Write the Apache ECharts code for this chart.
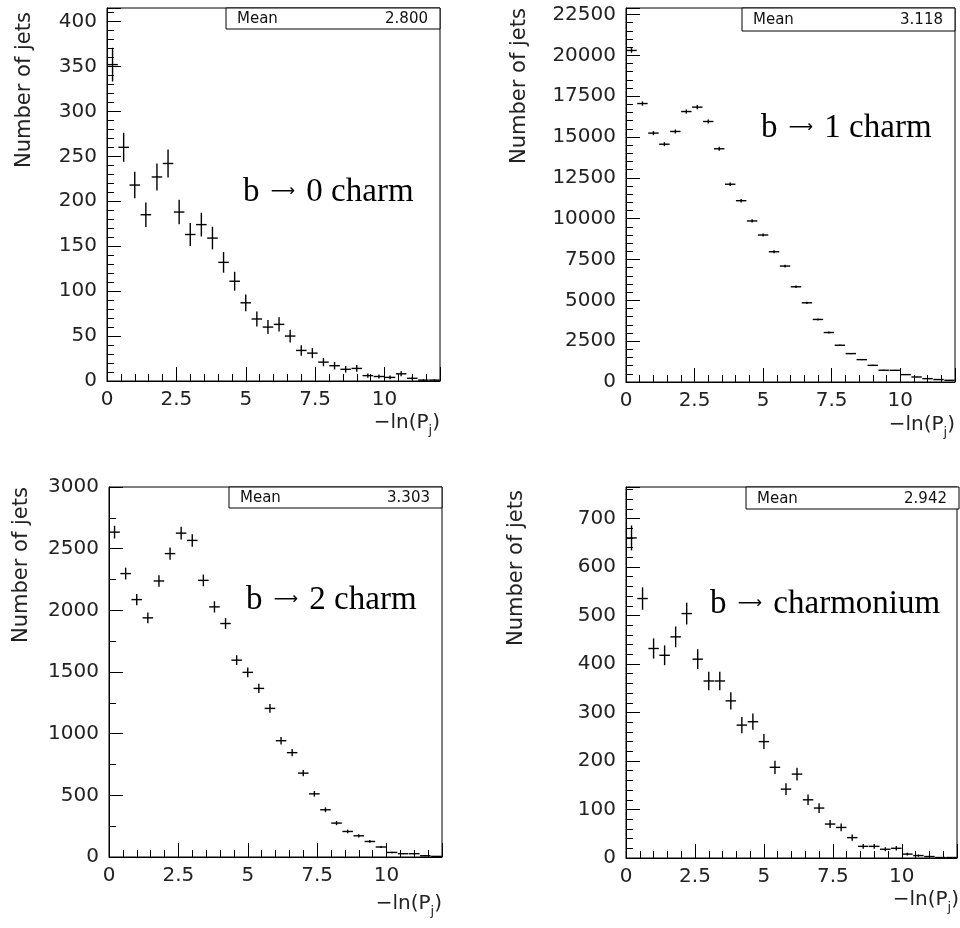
<!DOCTYPE html>
<html>
<head>
<meta charset="utf-8">
<script src="https://cdn.jsdelivr.net/npm/echarts@6/dist/echarts.min.js"></script>
<style>html,body{margin:0;padding:0;background:#fff}#c{width:960px;height:928px}</style>
</head>
<body>
<div id="c"></div>
<script>
// ---- data ----
const binCenters = [0.2,0.6,1.0,1.4,1.8,2.2,2.6,3.0,3.4,3.8,4.2,4.6,5.0,5.4,5.8,6.2,6.6,7.0,7.4,7.8,8.2,8.6,9.0,9.4,9.8,10.2,10.6,11.0,11.4,11.8];
const counts0charm = [352,260,218,185,227,242,188,163,174,159,132,111,87,69,60,63,50,34,31,21,17,13,14,6,5,4,8,3,1,1];
const counts1charm = [20300,17050,15240,14560,15340,16560,16830,15950,14280,12110,11100,9860,9000,7975,7100,5830,4850,3830,3030,2250,1740,1370,1020,720,715,452,307,205,150,104];
const counts2charm = [2634,2298,2087,1939,2238,2460,2626,2567,2243,2028,1893,1596,1497,1367,1205,943,846,680,512,383,275,207,172,126,81,37,27,27,10,5];
const countsCharmonium = [660,535,432,418,456,504,410,365,365,324,274,281,240,187,142,173,120,103,70,63,42,24,24,18,20,8,5,3,1,1];
const panelLabelEnds = ['0 charm','1 charm','2 charm','charmonium'];
const meanValues = ['2.800','3.118','3.303','2.942'];
const yTitle = 'Number of jets';
const xTitle = '\u2212ln(P';
const xTitleSub = 'j';
const yMax = [415, 22900, 3000, 765];
const yInterval = [50, 2500, 500, 100];
const yMinorSplit = [5, 5, 2, 5];

// ---- layout ----
const panels = [
  {left:107, top:8,   width:333, height:373, meanX:226, meanH:21, lab:[243,192], yt:[25,90],  xt:431},
  {left:626, top:8,   width:329, height:374, meanX:742, meanH:23, lab:[761,128], yt:[520,86], xt:433},
  {left:109, top:487, width:333, height:370, meanX:229, meanH:21, lab:[246,600], yt:[22,565], xt:912},
  {left:626, top:487, width:333, height:371, meanX:746, meanH:22, lab:[710,604], yt:[517,568], xt:908}
];
const allCounts = [counts0charm, counts1charm, counts2charm, countsCharmonium];
const FONT = '"DejaVu Sans", sans-serif';
const SERIF = '33px "Liberation Serif", "Times New Roman", serif';
const halfBin = 0.2;

const chart = echarts.init(document.getElementById('c'), null, {renderer:'canvas'});

const grid = [], xAxis = [], yAxis = [], series = [], graphic = [];
panels.forEach((p, i) => {
  grid.push({left:p.left, top:p.top, width:p.width, height:p.height, show:true, borderColor:'#000', borderWidth:1, backgroundColor:'transparent'});
  xAxis.push({
    type:'value', gridIndex:i, min:0, max:12, interval:2.5,
    axisLine:{show:true, onZero:false, lineStyle:{color:'#000', width:1}},
    axisTick:{show:true, inside:true, length:14, lineStyle:{color:'#000'}},
    minorTick:{show:true, splitNumber:5, length:7, lineStyle:{color:'#000'}},
    splitLine:{show:false},
    axisLabel:{color:'#222', fontFamily:FONT, fontSize:20, margin:9,
      formatter: v => (Math.abs(v/2.5 - Math.round(v/2.5)) < 1e-6 && v <= 10) ? String(v) : ''}
  });
  const iv = yInterval[i];
  yAxis.push({
    type:'value', gridIndex:i, min:0, max:yMax[i], interval:iv,
    axisLine:{show:true, onZero:false, lineStyle:{color:'#000', width:1}},
    axisTick:{show:true, inside:true, length:14, lineStyle:{color:'#000'}},
    minorTick:{show:true, splitNumber:yMinorSplit[i], length:7, lineStyle:{color:'#000'}},
    splitLine:{show:false},
    axisLabel:{color:'#222', fontFamily:FONT, fontSize:20, margin:10,
      formatter: v => (Math.abs(v/iv - Math.round(v/iv)) < 1e-6) ? String(v) : ''}
  });
  const counts = allCounts[i];
  series.push({
    type:'custom', xAxisIndex:i, yAxisIndex:i, clip:true,
    data: binCenters.map((c, k) => [c, counts[k], Math.sqrt(counts[k])]),
    encode:{x:0, y:1},
    renderItem: (params, api) => {
      const x = api.value(0), y = api.value(1), e = api.value(2);
      const l = api.coord([x - halfBin*0.95, y]), r = api.coord([x + halfBin*0.95, y]);
      const t = api.coord([x, y + e]), b = api.coord([x, Math.max(0, y - e)]);
      const st = {stroke:'#000', lineWidth:1.4};
      return {type:'group', children:[
        {type:'line', shape:{x1:l[0], y1:l[1], x2:r[0], y2:r[1]}, style:st},
        {type:'line', shape:{x1:t[0], y1:t[1], x2:b[0], y2:b[1]}, style:st}
      ]};
    }
  });
  const right = p.left + p.width;
  // Mean box
  graphic.push({type:'rect', shape:{x:p.meanX, y:p.top, width:right - p.meanX, height:p.meanH},
    style:{fill:'#fff', stroke:'#000', lineWidth:1}, z:100});
  graphic.push({type:'text', x:p.meanX + 11, y:p.top + p.meanH/2 + 1, z:101,
    style:{text:'Mean', font:'15px ' + FONT, fill:'#111', align:'left', verticalAlign:'middle'}});
  graphic.push({type:'text', x:right - 12, y:p.top + p.meanH/2 + 1, z:101,
    style:{text:meanValues[i], font:'15px ' + FONT, fill:'#111', align:'right', verticalAlign:'middle'}});
  // panel label  "b → ..."
  graphic.push({type:'text', x:p.lab[0], y:p.lab[1], z:101,
    style:{text:'{t|b }{a|\u27F6}{t| ' + panelLabelEnds[i] + '}', align:'left', verticalAlign:'middle',
      rich:{
        t:{font:SERIF, fill:'#000'},
        a:{font:'17px "DejaVu Sans", sans-serif', fill:'#000', padding:[0,3,0,3]}
      }}});
  // y title
  graphic.push({type:'text', x:p.yt[0], y:p.yt[1], rotation:Math.PI/2, z:101,
    style:{text:yTitle, font:'21px ' + FONT, fill:'#222', align:'center', verticalAlign:'middle'}});
  // x title with subscript
  graphic.push({type:'text', x:right, y:p.xt, z:101,
    style:{text:'{b|' + xTitle + '}{s|' + xTitleSub + '}{b|)}', align:'right', verticalAlign:'middle',
      rich:{
        b:{font:'20px ' + FONT, fill:'#222', lineHeight:22, verticalAlign:'top'},
        s:{font:'13px ' + FONT, fill:'#222', lineHeight:36, verticalAlign:'middle'}
      }}});
});

chart.setOption({
  animation:false,
  backgroundColor:'#fff',
  grid, xAxis, yAxis, series, graphic
});
</script>
</body>
</html>
